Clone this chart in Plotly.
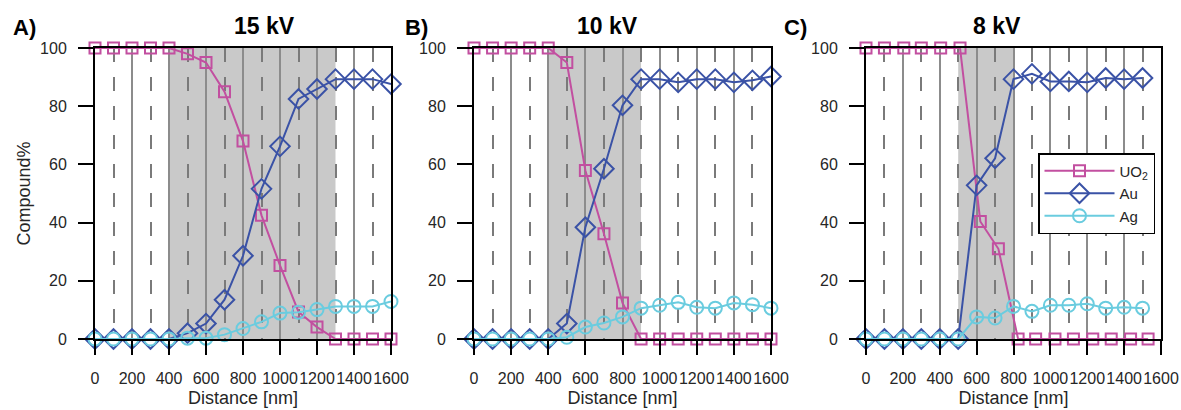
import plotly.graph_objects as go

# ---------------- data ----------------
x_ab = [0, 100, 200, 300, 400, 500, 600, 700, 800, 900, 1000, 1100, 1200, 1300, 1400, 1500, 1600]

a_uo2 = [100, 100, 100, 100, 100, 98, 95, 85, 68, 42.5, 25.3, 9.3, 4.1, 0, 0, 0, 0]
a_au = [0, 0, 0, 0, 0, 2, 5.3, 13.5, 28.6, 51.6, 66.2, 82.5, 85.9, 89.3, 89.3, 89.3, 87.6]
a_ag = [0, 0, 0, 0, 0, 0.3, 0.3, 1.5, 3.6, 5.9, 8.9, 9.2, 10.1, 11.2, 11.2, 11.2, 12.9]

b_uo2 = [100, 100, 100, 100, 100, 95, 57.9, 36.2, 12.4, 0, 0, 0, 0, 0, 0, 0, 0]
b_au = [0, 0, 0, 0, 0, 5.3, 38.4, 58.5, 80.3, 89.3, 89.3, 88.2, 89.3, 89.3, 88.2, 88.9, 90.2]
b_ag = [0, 0, 0, 0, 0, 0.6, 4.1, 5.5, 7.6, 10.6, 11.6, 12.6, 10.9, 10.6, 12.4, 11.8, 10.6]

x_c = [0, 100, 200, 300, 400, 500, 600, 700, 800, 900, 1000, 1100, 1200, 1300, 1400, 1500]
x_c_uo2 = [0, 100, 205, 300, 405, 510, 620, 718, 825, 920, 1025, 1125, 1230, 1330, 1435, 1530]
c_uo2 = [100, 100, 100, 100, 100, 100, 40.4, 31.0, 0, 0, 0, 0, 0, 0, 0, 0]
c_au = [0, 0, 0, 0, 0, 0, 52.8, 62.1, 89.3, 91.1, 88.5, 88.5, 88.2, 89.7, 89.3, 89.7]
c_ag = [0, 0, 0, 0, 0, 0, 7.6, 7.2, 11.2, 9.5, 11.6, 11.6, 12.1, 10.6, 10.9, 10.6]

panel_titles = ["15 kV", "10 kV", "8 kV"]
panel_letters = ["A)", "B)", "C)"]
shade_ranges = [(400, 1300), (400, 900), (500, 800)]

x_tick_vals = [0, 200, 400, 600, 800, 1000, 1200, 1400, 1600]
y_tick_vals = [0, 20, 40, 60, 80, 100]

# ---------------- styling ----------------
C_UO2 = "#c24fa0"
C_AU = "#3a52a6"
C_AG = "#6accdf"
FONT = "Liberation Sans, Arial, sans-serif"
TXT = "#262626"

W, H = 1181, 410
ML, MR, MT, MB = 95, 20, 48, 71
PW = W - ML - MR
PH = H - MT - MB

def px_x(p):
    return (p - ML) / PW

def px_y(p):
    return (H - MB - p) / PH

panel_px = [(95, 391), (474, 771), (866, 1161)]

fig = go.Figure()

series = [
    (x_ab, a_uo2, x_ab, a_au, x_ab, a_ag),
    (x_ab, b_uo2, x_ab, b_au, x_ab, b_ag),
    (x_c_uo2, c_uo2, x_c, c_au, x_c, c_ag),
]

for i, (xu, yu, xa, ya, xg, yg) in enumerate(series):
    xa_name = "x" if i == 0 else f"x{i+1}"
    ya_name = "y" if i == 0 else f"y{i+1}"
    show = (i == 2)
    fig.add_trace(go.Scatter(
        x=xu, y=yu, name="UO<sub>2</sub>", mode="lines+markers",
        line=dict(color=C_UO2, width=2),
        marker=dict(symbol="square-open", size=11, color=C_UO2, line=dict(width=2, color=C_UO2)),
        xaxis=xa_name, yaxis=ya_name, showlegend=show, cliponaxis=False))
    fig.add_trace(go.Scatter(
        x=xa, y=ya, name="Au", mode="lines+markers",
        line=dict(color=C_AU, width=2),
        marker=dict(symbol="diamond-open", size=15, color=C_AU, line=dict(width=2, color=C_AU)),
        xaxis=xa_name, yaxis=ya_name, showlegend=show, cliponaxis=False))
    fig.add_trace(go.Scatter(
        x=xg, y=yg, name="Ag", mode="lines+markers",
        line=dict(color=C_AG, width=2),
        marker=dict(symbol="circle-open", size=13, color=C_AG, line=dict(width=2, color=C_AG)),
        xaxis=xa_name, yaxis=ya_name, showlegend=show, cliponaxis=False))

    # shaded interface region
    x0, x1 = shade_ranges[i]
    fig.add_shape(type="rect", xref=xa_name, yref=f"{ya_name} domain",
                  x0=x0, x1=x1, y0=0, y1=1, fillcolor="#c9c9c9",
                  line=dict(width=0), layer="below")

layout = dict(
    width=W, height=H,
    margin=dict(l=ML, r=MR, t=MT, b=MB, pad=0),
    paper_bgcolor="white", plot_bgcolor="white",
    font=dict(family=FONT, size=16, color=TXT),
    showlegend=True,
    legend=dict(x=px_x(1038), y=px_y(153), xanchor="left", yanchor="top",
                bgcolor="white", bordercolor="black", borderwidth=1.5,
                font=dict(family=FONT, size=15, color=TXT),
                itemwidth=70, tracegroupgap=0),
)

for i in range(3):
    sfx = "" if i == 0 else str(i + 1)
    l, r = panel_px[i]
    layout[f"xaxis{sfx}"] = dict(
        domain=[px_x(l), px_x(r)], range=[0, 1600], anchor=f"y{sfx}",
        tickvals=x_tick_vals, ticktext=[str(v) for v in x_tick_vals],
        tickangle=0,
        ticks="outside", ticklen=14, tickwidth=2, tickcolor="black",
        ticklabelstandoff=10,
        showline=True, linecolor="black", linewidth=2, mirror=True,
        showgrid=True, gridcolor="#8c8c8c", gridwidth=1.5,
        minor=dict(dtick=100, tick0=0, showgrid=True, gridcolor="#7a7a7a",
                   gridwidth=2, griddash="14px,15px", ticks=""),
        zeroline=False, automargin=False,
        title=dict(text="Distance [nm]", font=dict(size=18, family=FONT, color=TXT), standoff=5),
        tickfont=dict(size=16, family=FONT, color=TXT),
    )
    layout[f"yaxis{sfx}"] = dict(
        domain=[0, 1], range=[0, 100], anchor=f"x{sfx}",
        tickvals=y_tick_vals,
        ticks="outside", ticklen=15, tickwidth=2, tickcolor="black",
        ticklabelstandoff=8,
        showline=True, linecolor="black", linewidth=2, mirror=True,
        showgrid=False, zeroline=False, automargin=False,
        tickfont=dict(size=16, family=FONT, color=TXT),
    )
layout["yaxis"]["title"] = dict(text="Compound%", font=dict(size=18, family=FONT, color=TXT), standoff=5)

title_px = [264, 607, 997]
letter_px = [24, 416, 795]
annotations = []
for i in range(3):
    annotations.append(dict(
        text=f"<b>{panel_titles[i]}</b>", x=px_x(title_px[i]), y=px_y(26),
        xref="paper", yref="paper", xanchor="center", yanchor="middle",
        showarrow=False, font=dict(size=23, family=FONT, color="black")))
    annotations.append(dict(
        text=f"<b>{panel_letters[i]}</b>", x=px_x(letter_px[i]), y=px_y(27),
        xref="paper", yref="paper", xanchor="center", yanchor="middle",
        showarrow=False, font=dict(size=22, family=FONT, color="black")))
layout["annotations"] = annotations

fig.update_layout(**layout)
fig.write_html("out.html", config={"displayModeBar": False},
               post_script="document.body.style.margin='0';")
